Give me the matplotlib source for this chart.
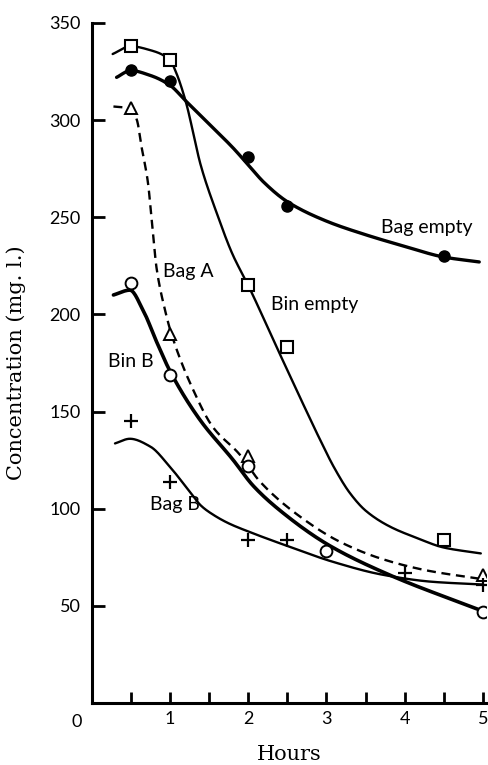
import numpy as np
import matplotlib
matplotlib.use('Agg')
import matplotlib.pyplot as plt

# measured points (hours, concentration mg/l)
bag_empty_t = [0.5, 1, 2, 2.5, 4.5]
bag_empty_c = [326, 320, 281, 256, 230]
bin_empty_t = [0.5, 1, 2, 2.5, 4.5]
bin_empty_c = [338, 331, 215, 183, 84]
bag_a_t = [0.5, 1, 2, 5]
bag_a_c = [306, 190, 127, 66]
bin_b_t = [0.5, 1, 2, 3, 5]
bin_b_c = [216, 169, 122, 78, 47]
bag_b_t = [0.5, 1, 2, 2.5, 4, 5]
bag_b_c = [145, 114, 84, 84, 67, 61]

# hand-drawn fitted curves
bag_empty_fit_t = [0.32, 0.5, 0.75, 1.0, 1.2, 1.5, 1.8, 2.0, 2.2, 2.5, 3.0, 3.5, 4.0, 4.5, 4.95]
bag_empty_fit_c = [322, 325.5, 323, 318, 310, 298, 286, 277, 268, 258, 248, 241, 235, 229.5, 227]
bin_empty_fit_t = [0.27, 0.5, 0.75, 1.0, 1.085, 1.2, 1.4, 1.6, 1.8, 2.0, 2.4, 2.7, 2.9, 3.1, 3.3, 3.5, 3.8, 4.15, 4.5, 4.97]
bin_empty_fit_c = [334, 338, 336, 331, 324, 310, 276, 252, 231, 215, 180, 154, 137, 121, 108, 99, 91, 85, 80, 77]
bag_a_fit_t = [0.28, 0.5, 0.58, 0.64, 0.72, 0.77, 0.83, 0.94, 1.02, 1.3, 1.55, 1.89, 2.15, 2.66, 3.17, 3.72, 4.31, 4.95]
bag_a_fit_c = [307, 306, 300, 286, 268, 248, 224, 202, 190, 161, 142, 128, 114, 96, 83, 74, 68, 64]
bin_b_fit_t = [0.28, 0.49, 0.66, 0.83, 1.0, 1.38, 1.81, 2.06, 2.44, 3.04, 3.8, 4.95]
bin_b_fit_c = [210, 212.5, 202, 186, 171, 146, 125, 112, 98, 81, 66, 48]
bag_b_fit_t = [0.30, 0.49, 0.75, 1.0, 1.25, 1.4, 1.55, 1.75, 2.02, 2.53, 3.08, 3.72, 4.35, 4.99]
bag_b_fit_c = [133.6, 136, 132, 121.6, 109, 101.5, 97, 92.5, 88, 80.4, 72.7, 66, 62.4, 61]

y_ticks = [50, 100, 150, 200, 250, 300, 350]
x_ticks = [1, 2, 3, 4, 5]


def smooth(xs, ys, n=400):
    # monotone cubic (pchip) through the traced points, just for drawing
    x = np.asarray(xs, float)
    y = np.asarray(ys, float)
    h = np.diff(x)
    dl = np.diff(y) / h
    d = np.zeros_like(x)
    d[0], d[-1] = dl[0], dl[-1]
    for k in range(1, len(x) - 1):
        if dl[k - 1] * dl[k] > 0:
            w1 = 2 * h[k] + h[k - 1]
            w2 = h[k] + 2 * h[k - 1]
            d[k] = (w1 + w2) / (w1 / dl[k - 1] + w2 / dl[k])
    xx = np.linspace(x[0], x[-1], n)
    i = np.clip(np.searchsorted(x, xx) - 1, 0, len(x) - 2)
    s = (xx - x[i]) / h[i]
    h00 = 2 * s**3 - 3 * s**2 + 1
    h10 = s**3 - 2 * s**2 + s
    h01 = -2 * s**3 + 3 * s**2
    h11 = s**3 - s**2
    yy = h00 * y[i] + h10 * h[i] * d[i] + h01 * y[i + 1] + h11 * h[i] * d[i + 1]
    return xx, yy


fig = plt.figure(figsize=(4.88, 7.65), dpi=100)
ax = fig.add_axes([0.1875, 0.081, 0.809, 0.889])

lab_font = 'Lato'

ax.plot(*smooth(bag_empty_fit_t, bag_empty_fit_c), color='black', lw=2.4, solid_capstyle='round')
ax.plot(*smooth(bin_empty_fit_t, bin_empty_fit_c), color='black', lw=1.7, solid_capstyle='round')
ax.plot(*smooth(bag_a_fit_t, bag_a_fit_c), color='black', lw=1.7, ls=(0, (3.8, 2.4)))
ax.plot(*smooth(bin_b_fit_t, bin_b_fit_c), color='black', lw=2.6, solid_capstyle='round')
ax.plot(*smooth(bag_b_fit_t, bag_b_fit_c), color='black', lw=1.7, solid_capstyle='round')

ax.plot(bag_empty_t, bag_empty_c, 'o', ms=8, color='black', zorder=5)
ax.plot(bin_empty_t, bin_empty_c, 's', ms=9, mfc='white', mec='black', mew=1.5, zorder=5)
ax.plot(bag_a_t, bag_a_c, '^', ms=9, mfc='white', mec='black', mew=1.4, zorder=5)
ax.plot(bin_b_t, bin_b_c, 'o', ms=8.5, mfc='white', mec='black', mew=1.4, zorder=5)
ax.plot(bag_b_t, bag_b_c, '+', ms=10, color='black', mew=1.6, zorder=5)

ax.text(3.69, 244.5, 'Bag empty', fontsize=14, family=lab_font, va='center')
ax.text(2.29, 205, 'Bin empty', fontsize=14, family=lab_font, va='center')
ax.text(0.915, 222, 'Bag A', fontsize=14, family=lab_font, va='center')
ax.text(0.21, 176, 'Bin B', fontsize=14, family=lab_font, va='center')
ax.text(0.745, 102.4, 'Bag B', fontsize=14, family=lab_font, va='center')

ax.set_xlim(0, 5.04)
ax.set_ylim(0, 350)
for s in ['top', 'right']:
    ax.spines[s].set_visible(False)
for s in ['left', 'bottom']:
    ax.spines[s].set_linewidth(2.2)

ax.set_yticks(y_ticks)
ax.set_xticks(x_ticks)
ax.set_xticks(np.arange(0.5, 5.01, 1.0), minor=True)
ax.tick_params(axis='both', which='both', direction='in', width=2, labelsize=13)
ax.tick_params(axis='y', length=9, pad=8)
ax.tick_params(axis='x', which='both', length=8, pad=6)
for lbl in ax.get_xticklabels() + ax.get_yticklabels():
    lbl.set_family(lab_font)
ax.annotate('0', xy=(0, 0), xytext=(-11, -14), textcoords='offset points',
            ha='center', va='center', fontsize=13, family=lab_font)

ax.set_xlabel('Hours', family='DejaVu Serif', fontsize=15)
ax.set_ylabel('Concentration (mg. l.)', family='DejaVu Serif', fontsize=15)
ax.xaxis.set_label_coords(0.5, -0.062)
ax.yaxis.set_label_coords(-0.165, 0.5)

fig.savefig('out.png', dpi=100)
